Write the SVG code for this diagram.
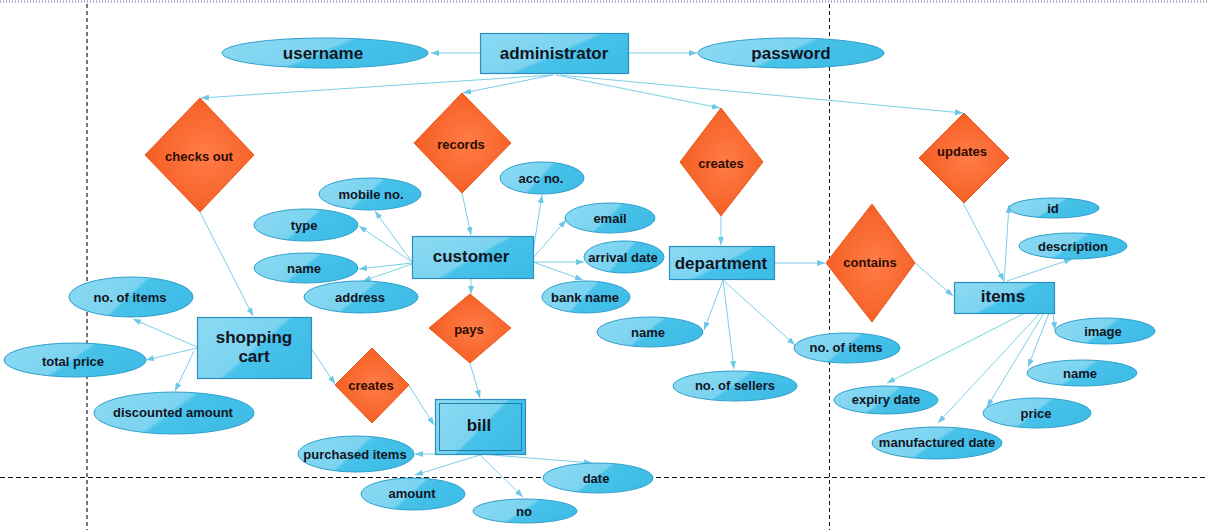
<svg xmlns="http://www.w3.org/2000/svg" width="1208" height="530" viewBox="0 0 1208 530">
<defs>
<linearGradient id="gE" x1="0" y1="0" x2="1" y2="0.35">
<stop offset="0" stop-color="#8cdaf3"/><stop offset="0.56" stop-color="#7bd3f0"/><stop offset="0.6" stop-color="#47c2ea"/><stop offset="1" stop-color="#3fbde6"/>
</linearGradient>
<linearGradient id="gR" x1="0" y1="0" x2="1" y2="0.6">
<stop offset="0" stop-color="#8cdaf3"/><stop offset="0.58" stop-color="#7bd3f0"/><stop offset="0.62" stop-color="#47c2ea"/><stop offset="1" stop-color="#3fbde6"/>
</linearGradient>
<radialGradient id="gD" cx="0.55" cy="0.5" r="0.55">
<stop offset="0" stop-color="#ff7c48"/><stop offset="1" stop-color="#f45e22"/>
</radialGradient>
<marker id="ah" viewBox="0 0 8 6" refX="8" refY="3" markerWidth="8" markerHeight="6" markerUnits="userSpaceOnUse" orient="auto">
<path d="M0,0 L8,3 L0,6 z" fill="#6cc8e6"/>
</marker>
<style>
.e{fill:url(#gE);stroke:#2f9fcc;stroke-width:1}
.r{fill:url(#gR);stroke:#2a8fbf;stroke-width:1.2}
.d{fill:url(#gD);stroke:#e8571c;stroke-width:1}
.t{font-family:"Liberation Sans",Arial,sans-serif;font-weight:bold;fill:#11151f;text-anchor:middle;dominant-baseline:central}
.s{font-size:13px}
.b{font-size:17px}
.g{font-size:17px}
.dt{font-family:"Liberation Sans",Arial,sans-serif;font-weight:bold;fill:#2e0c02;text-anchor:middle;dominant-baseline:central;font-size:13px}
.c path{fill:none;stroke:#7ccfe9;stroke-width:1;marker-end:url(#ah)}
</style>
</defs>
<rect width="1208" height="530" fill="#ffffff"/>
<g id="guides" fill="none">
<line x1="0" y1="1.5" x2="1208" y2="1.5" stroke="#7f8fb0" stroke-width="2" stroke-dasharray="1,2"/>
<line x1="87" y1="4" x2="87" y2="530" stroke="#777" stroke-width="2" stroke-dasharray="4,3"/>
<line x1="829.5" y1="4" x2="829.5" y2="530" stroke="#111" stroke-width="1" stroke-dasharray="4,3"/>
<line x1="0" y1="477.5" x2="1208" y2="477.5" stroke="#111" stroke-width="1" stroke-dasharray="5,3"/>
</g>
<g id="connectors" class="c">
<path d="M480,53 L431,53"/>
<path d="M628,53 L697,53"/>
<path d="M553,75 L201,98"/>
<path d="M553,75 L463,93"/>
<path d="M556,75 L720,108"/>
<path d="M560,75 L963,113"/>
<path d="M200,212 L253,316"/>
<path d="M462,193 L471,235"/>
<path d="M412,262 L375,211"/>
<path d="M412,262 L359,226"/>
<path d="M412,263 L359,269"/>
<path d="M412,264 L363,281"/>
<path d="M533,252 L542,195"/>
<path d="M533,258 L566,220"/>
<path d="M533,262 L584,262"/>
<path d="M533,262 L583,280"/>
<path d="M471,278 L471,294"/>
<path d="M470,363 L480,398"/>
<path d="M311,348 L335,384"/>
<path d="M408,384 L434,425"/>
<path d="M197,347 L133,319"/>
<path d="M197,348 L146,360"/>
<path d="M194,351 L175,391"/>
<path d="M480,454 L415,454"/>
<path d="M480,455 L415,475"/>
<path d="M480,454 L592,463"/>
<path d="M480,455 L523,497"/>
<path d="M721,216 L721,245"/>
<path d="M775,263 L825,263"/>
<path d="M915,263 L953,296"/>
<path d="M963,203 L1004,281"/>
<path d="M1004,282 L1009,205"/>
<path d="M1007,281 L1072,259"/>
<path d="M1053,313 L1055,330"/>
<path d="M1049,313 L1028,367"/>
<path d="M1044,313 L987,407"/>
<path d="M1040,313 L938,423"/>
<path d="M1025,313 L887,383"/>
<path d="M723,280 L704,330"/>
<path d="M723,280 L734,369"/>
<path d="M723,280 L795,345"/>
</g>
<g id="administrator"><rect class="r" x="480.5" y="33.5" width="148" height="40"/><text class="t b" x="554" y="53">administrator</text></g>
<g id="username"><ellipse class="e" cx="325" cy="53" rx="103" ry="15"/><text class="t g" x="323" y="53">username</text></g>
<g id="password"><ellipse class="e" cx="791" cy="53" rx="93" ry="15"/><text class="t g" x="791" y="53">password</text></g>
<g id="checks-out"><polygon class="d" points="200,98 254,155 200,212 145,155"/><text class="dt" x="199" y="156">checks out</text></g>
<g id="records"><polygon class="d" points="462,93 511,143 462,193 414,143"/><text class="dt" x="461" y="144">records</text></g>
<g id="creates-dept"><polygon class="d" points="721,108 763,162 721,216 680,162"/><text class="dt" x="721" y="163">creates</text></g>
<g id="updates"><polygon class="d" points="964,113 1009,158 964,203 919,158"/><text class="dt" x="962" y="151">updates</text></g>
<g id="customer"><rect class="r" x="412.5" y="236.5" width="121" height="42"/><text class="t b" x="471" y="256">customer</text></g>
<g id="department"><rect class="r" x="669.5" y="246.5" width="105" height="33"/><text class="t b" x="721" y="263">department</text></g>
<g id="items"><rect class="r" x="954.5" y="282.5" width="100" height="31"/><text class="t b" x="1003" y="296">items</text></g>
<g id="shopping-cart"><rect class="r" x="197.5" y="317.5" width="114" height="61"/><text class="t b" x="254" y="337">shopping</text><text class="t b" x="254" y="356">cart</text></g>
<g id="bill"><rect class="r" x="435.5" y="399.5" width="90" height="55" stroke="#1f7eaa"/><rect x="439.5" y="403.5" width="82" height="47" fill="none" stroke="#1f7eaa" stroke-width="1"/><text class="t b" x="479" y="425">bill</text></g>
<g id="contains"><polygon class="d" points="872,204 915,263 872,322 826,263"/><text class="dt" x="870" y="262">contains</text></g>
<g id="pays"><polygon class="d" points="470,294 511,328 470,363 429,328"/><text class="dt" x="469" y="329">pays</text></g>
<g id="creates-cart"><polygon class="d" points="372,348 409,385 372,423 335,385"/><text class="dt" x="371" y="385">creates</text></g>
<g id="mobile-no"><ellipse class="e" cx="370" cy="194" rx="51" ry="16"/><text class="t s" x="371" y="194">mobile no.</text></g>
<g id="type"><ellipse class="e" cx="306" cy="225" rx="52" ry="16"/><text class="t s" x="304" y="225">type</text></g>
<g id="cust-name"><ellipse class="e" cx="306" cy="268" rx="52" ry="15"/><text class="t s" x="304" y="268">name</text></g>
<g id="address"><ellipse class="e" cx="361" cy="297" rx="57" ry="16"/><text class="t s" x="360" y="297">address</text></g>
<g id="acc-no"><ellipse class="e" cx="542" cy="178" rx="42" ry="16"/><text class="t s" x="541" y="178">acc no.</text></g>
<g id="email"><ellipse class="e" cx="610" cy="218" rx="45" ry="15"/><text class="t s" x="610" y="218">email</text></g>
<g id="arrival-date"><ellipse class="e" cx="624" cy="257" rx="40" ry="16"/><text class="t s" x="623" y="257">arrival date</text></g>
<g id="bank-name"><ellipse class="e" cx="586" cy="297" rx="44" ry="16"/><text class="t s" x="585" y="297">bank name</text></g>
<g id="dept-name"><ellipse class="e" cx="650" cy="332" rx="53" ry="15"/><text class="t s" x="648" y="332">name</text></g>
<g id="dept-no-of-items"><ellipse class="e" cx="847" cy="348" rx="53" ry="15"/><text class="t s" x="846" y="347">no. of items</text></g>
<g id="no-of-sellers"><ellipse class="e" cx="735" cy="386" rx="62" ry="15"/><text class="t s" x="735" y="385">no. of sellers</text></g>
<g id="id"><ellipse class="e" cx="1054" cy="208" rx="45" ry="10"/><text class="t s" x="1053" y="208">id</text></g>
<g id="description"><ellipse class="e" cx="1073" cy="246" rx="54" ry="13"/><text class="t s" x="1073" y="246">description</text></g>
<g id="image"><ellipse class="e" cx="1105" cy="331" rx="50" ry="13"/><text class="t s" x="1103" y="331">image</text></g>
<g id="item-name"><ellipse class="e" cx="1082" cy="373" rx="55" ry="13"/><text class="t s" x="1080" y="373">name</text></g>
<g id="price"><ellipse class="e" cx="1037" cy="413" rx="54" ry="15"/><text class="t s" x="1036" y="413">price</text></g>
<g id="expiry-date"><ellipse class="e" cx="886" cy="400" rx="52" ry="14"/><text class="t s" x="886" y="399">expiry date</text></g>
<g id="manufactured-date"><ellipse class="e" cx="937" cy="443" rx="65" ry="16"/><text class="t s" x="937" y="442">manufactured date</text></g>
<g id="cart-no-of-items"><ellipse class="e" cx="131" cy="297" rx="62" ry="20"/><text class="t s" x="130" y="297">no. of items</text></g>
<g id="total-price"><ellipse class="e" cx="75" cy="360" rx="71" ry="17"/><text class="t s" x="73" y="361">total price</text></g>
<g id="discounted-amount"><ellipse class="e" cx="174" cy="413" rx="80" ry="21"/><text class="t s" x="173" y="412">discounted amount</text></g>
<g id="purchased-items"><ellipse class="e" cx="356" cy="454" rx="58" ry="18"/><text class="t s" x="355" y="454">purchased items</text></g>
<g id="amount"><ellipse class="e" cx="413" cy="494" rx="52" ry="16"/><text class="t s" x="412" y="493">amount</text></g>
<g id="date"><ellipse class="e" cx="598" cy="478" rx="55" ry="15"/><text class="t s" x="596" y="478">date</text></g>
<g id="no"><ellipse class="e" cx="525" cy="511" rx="52" ry="12"/><text class="t s" x="524" y="511">no</text></g>
</svg>
